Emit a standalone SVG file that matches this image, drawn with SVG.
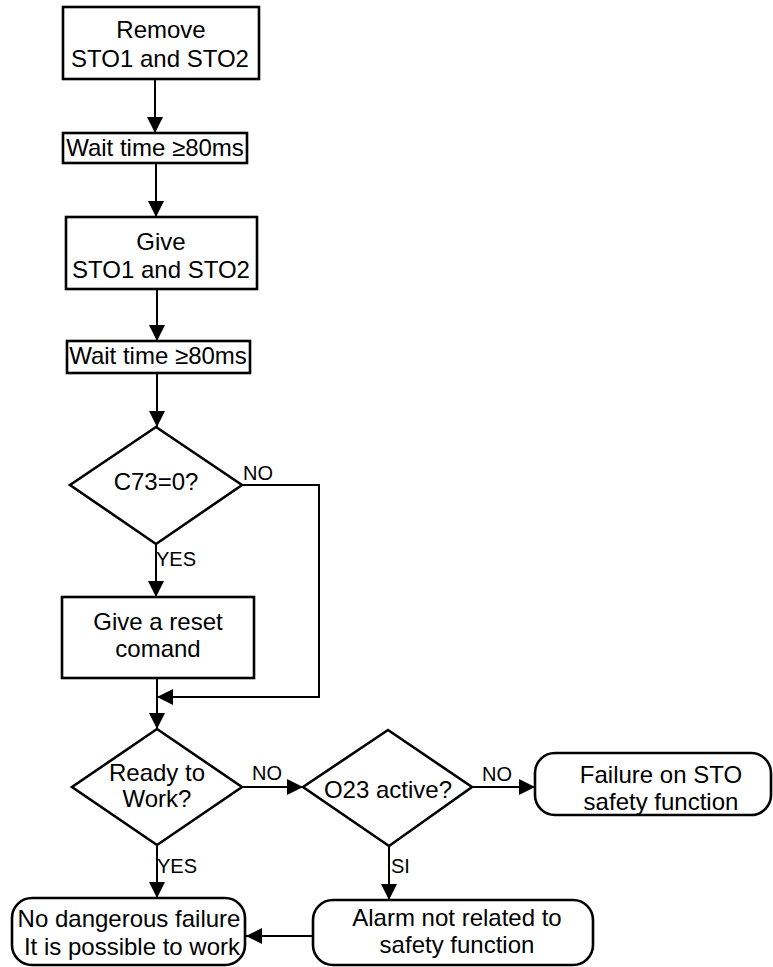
<svg xmlns="http://www.w3.org/2000/svg" width="773" height="967" viewBox="0 0 773 967">
<defs>
<style>
.n{fill:#fff;stroke:#000;stroke-width:2.6}
.c{fill:none;stroke:#000;stroke-width:2}
.t{font-family:"Liberation Sans",Arial,sans-serif;font-size:24px;fill:#000;text-anchor:middle}
.l{font-family:"Liberation Sans",Arial,sans-serif;font-size:20px;fill:#000}
</style>
<marker id="ah" markerUnits="userSpaceOnUse" markerWidth="16" markerHeight="16" refX="16" refY="8" orient="auto">
<path d="M0,0 L16,8 L0,16 z" fill="#000"/>
</marker>
</defs>
<rect width="773" height="967" fill="#fff"/>
<g id="connectors">
<path class="c" d="M155,79 V133" marker-end="url(#ah)"/>
<path class="c" d="M156,163 V217" marker-end="url(#ah)"/>
<path class="c" d="M157,289 V341" marker-end="url(#ah)"/>
<path class="c" d="M157,373 V427" marker-end="url(#ah)"/>
<path class="c" d="M156,544 V597" marker-end="url(#ah)"/>
<path class="c" d="M242,485 H319 V697 H157" marker-end="url(#ah)"/>
<path class="c" d="M157,678 V729" marker-end="url(#ah)"/>
<path class="c" d="M242,787 H303" marker-end="url(#ah)"/>
<path class="c" d="M472,787 H535" marker-end="url(#ah)"/>
<path class="c" d="M157,845 V898" marker-end="url(#ah)"/>
<path class="c" d="M389,846 V900" marker-end="url(#ah)"/>
<path class="c" d="M313,936 H246" marker-end="url(#ah)"/>
<text class="l" x="243" y="480">NO</text>
<text class="l" x="156" y="566">YES</text>
<text class="l" x="252" y="780">NO</text>
<text class="l" x="482" y="781">NO</text>
<text class="l" x="157" y="873">YES</text>
<text class="l" x="391" y="873">SI</text>
</g>
<g id="remove">
<rect class="n" x="63" y="7" width="196" height="72"/>
<text class="t" x="161" y="38">Remove</text>
<text class="t" x="160" y="67">STO1 and STO2</text>
</g>
<g id="wait1">
<rect class="n" x="63" y="133" width="184" height="30"/>
<text class="t" x="155" y="156">Wait time ≥80ms</text>
</g>
<g id="give">
<rect class="n" x="66" y="217" width="191" height="72"/>
<text class="t" x="161" y="250">Give</text>
<text class="t" x="161" y="278">STO1 and STO2</text>
</g>
<g id="wait2">
<rect class="n" x="67" y="341" width="183" height="32"/>
<text class="t" x="158" y="364">Wait time ≥80ms</text>
</g>
<g id="c73">
<polygon class="n" points="156,427 242,485 156,544 70,485"/>
<text class="t" x="156" y="490">C73=0?</text>
</g>
<g id="reset">
<rect class="n" x="62" y="597" width="192" height="81"/>
<text class="t" x="158" y="630">Give a reset</text>
<text class="t" x="158" y="657">comand</text>
</g>
<g id="ready">
<polygon class="n" points="157,729 242,787 157,845 72,787"/>
<text class="t" x="157" y="781">Ready to</text>
<text class="t" x="157" y="807">Work?</text>
</g>
<g id="o23">
<polygon class="n" points="388,730 472,787 389,846 303,787"/>
<text class="t" x="388" y="798">O23 active?</text>
</g>
<g id="failure">
<rect class="n" x="535" y="753" width="236" height="62" rx="20" ry="20"/>
<text class="t" x="661" y="783">Failure on STO</text>
<text class="t" x="661" y="810">safety function</text>
</g>
<g id="nodanger">
<rect class="n" x="12" y="898" width="233" height="67" rx="20" ry="20"/>
<text class="t" x="129" y="927">No dangerous failure</text>
<text class="t" x="132" y="955">It is possible to work</text>
</g>
<g id="alarm">
<rect class="n" x="313" y="900" width="280" height="65" rx="20" ry="20"/>
<text class="t" x="457" y="926">Alarm not related to</text>
<text class="t" x="457" y="953">safety function</text>
</g>
</svg>
